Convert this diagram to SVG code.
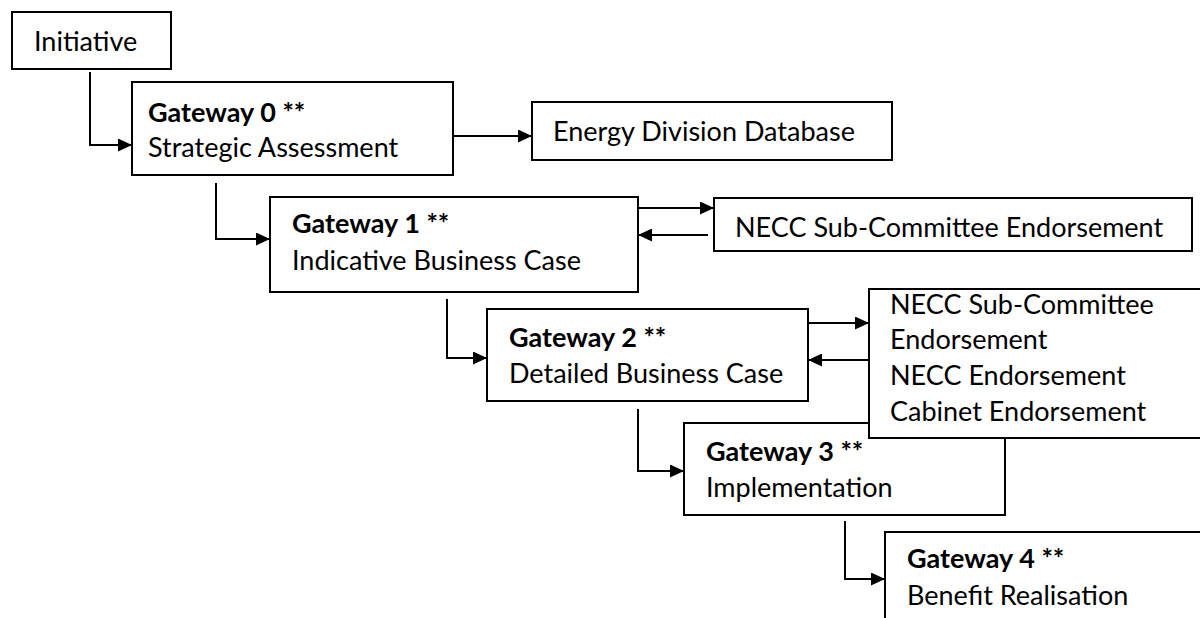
<svg xmlns="http://www.w3.org/2000/svg" width="1200" height="618" viewBox="0 0 1200 618">
<style>
.box{fill:#fff;stroke:#000;stroke-width:2}
.t{font-family:Lato,"Open Sans","Liberation Sans",sans-serif;font-size:27px;fill:#000}
.b{font-weight:bold}
.c{fill:none;stroke:#000;stroke-width:2}
</style>
<defs>
<marker id="ah" markerUnits="userSpaceOnUse" markerWidth="14" markerHeight="13" refX="14" refY="6.5" orient="auto">
<path d="M0,0 L14,6.5 L0,13 z" fill="#000"/>
</marker>
</defs>
<rect width="1200" height="618" fill="#fff"/>
<g id="initiative"><rect class="box" x="12" y="12" width="159" height="57"/><text class="t" x="34" y="51">Initiative</text></g>
<g id="gateway0"><rect class="box" x="132" y="82" width="321" height="93"/><text class="t b" x="148" y="122">Gateway 0 **</text><text class="t" x="148" y="157">Strategic Assessment</text></g>
<g id="energy"><rect class="box" x="532" y="102" width="360" height="58"/><text class="t" x="553" y="141">Energy Division Database</text></g>
<g id="gateway1"><rect class="box" x="270" y="197" width="368" height="95"/><text class="t b" x="292" y="233">Gateway 1 **</text><text class="t" x="292" y="270">Indicative Business Case</text></g>
<g id="necc1"><rect class="box" x="714" y="198" width="478" height="53"/><text class="t" x="735" y="237">NECC Sub-Committee Endorsement</text></g>
<g id="gateway2"><rect class="box" x="487" y="309" width="321" height="92"/><text class="t b" x="509" y="347">Gateway 2 **</text><text class="t" x="509" y="383">Detailed Business Case</text></g>
<g id="gateway3"><rect class="box" x="684" y="423" width="321" height="92"/><text class="t b" x="706" y="461">Gateway 3 **</text><text class="t" x="706" y="497">Implementation</text></g>
<g id="necc2"><rect class="box" x="869" y="289" width="345" height="149"/><text class="t" x="890" y="314">NECC Sub-Committee</text><text class="t" x="890" y="349">Endorsement</text><text class="t" x="890" y="385">NECC Endorsement</text><text class="t" x="890" y="421">Cabinet Endorsement</text></g>
<g id="gateway4"><rect class="box" x="885" y="532" width="330" height="100"/><text class="t b" x="907" y="568">Gateway 4 **</text><text class="t" x="907" y="605">Benefit Realisation</text></g>
<g id="connectors">
<path class="c" d="M90,72 V145 H132" marker-end="url(#ah)"/>
<path class="c" d="M453,136 H532" marker-end="url(#ah)"/>
<path class="c" d="M216,183 V239 H270" marker-end="url(#ah)"/>
<path class="c" d="M638,208 H714" marker-end="url(#ah)"/>
<path class="c" d="M708,235 H638" marker-end="url(#ah)"/>
<path class="c" d="M447,299 V358 H487" marker-end="url(#ah)"/>
<path class="c" d="M808,323 H869" marker-end="url(#ah)"/>
<path class="c" d="M869,360 H808" marker-end="url(#ah)"/>
<path class="c" d="M638,409 V471 H684" marker-end="url(#ah)"/>
<path class="c" d="M845,521 V579 H885" marker-end="url(#ah)"/>
</g>
</svg>
